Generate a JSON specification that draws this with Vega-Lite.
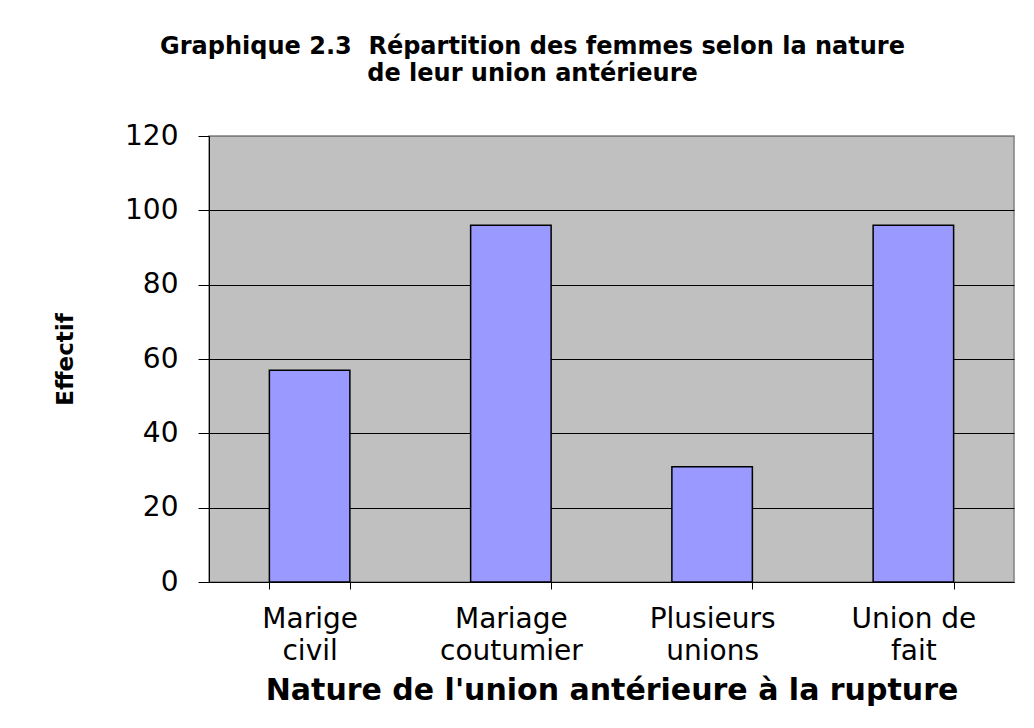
{
  "$schema": "https://vega.github.io/schema/vega-lite/v6.json",
  "width": 805,
  "height": 446,
  "autosize": "none",
  "padding": {"left": 209, "top": 136, "right": 20, "bottom": 146},
  "background": "white",
  "title": {
    "text": ["Graphique 2.3\u00a0 Répartition des femmes selon la nature", "de leur union antérieure"],
    "font": "DejaVu Sans",
    "fontSize": 24,
    "fontWeight": "bold",
    "color": "black",
    "anchor": "middle",
    "dx": -79,
    "offset": 36,
    "lineHeight": 27
  },
  "data": {
    "values": [
      {"nature": "Marige civil", "effectif": 57},
      {"nature": "Mariage coutumier", "effectif": 96},
      {"nature": "Plusieurs unions", "effectif": 31},
      {"nature": "Union de fait", "effectif": 96}
    ]
  },
  "mark": {"type": "bar", "fill": "#9999FF", "stroke": "black", "strokeWidth": 1.5},
  "encoding": {
    "x": {
      "field": "nature",
      "type": "nominal",
      "sort": null,
      "scale": {"paddingInner": 0.6, "paddingOuter": 0.3},
      "axis": {
        "title": "Nature de l'union antérieure à la rupture",
        "titleFont": "DejaVu Sans",
        "titleFontSize": 30,
        "titleFontWeight": "bold",
        "titleColor": "black",
        "titleY": 117,
        "titleBaseline": "alphabetic",
        "labelAngle": 0,
        "labelFont": "DejaVu Sans",
        "labelFontSize": 28,
        "labelColor": "black",
        "labelBaseline": "alphabetic",
        "labelPadding": 38,
        "labelLineHeight": 32,
        "labelOverlap": false,
        "labelLimit": 0,
        "labelExpr": "[substring(datum.label, 0, lastindexof(datum.label, ' ')), substring(datum.label, lastindexof(datum.label, ' ') + 1)]",
        "tickBand": "extent",
        "tickSize": 7,
        "tickColor": "black",
        "domainColor": "black",
        "grid": false
      }
    },
    "y": {
      "field": "effectif",
      "type": "quantitative",
      "scale": {"domain": [0, 120]},
      "axis": {
        "title": "Effectif",
        "titleFont": "DejaVu Sans",
        "titleFontSize": 23,
        "titleFontWeight": "bold",
        "titleColor": "black",
        "titleX": -137,
        "titleY": 223,
        "titleAngle": -90,
        "titleAlign": "center",
        "titleBaseline": "alphabetic",
        "values": [0, 20, 40, 60, 80, 100, 120],
        "labelFont": "DejaVu Sans",
        "labelFontSize": 28,
        "labelColor": "black",
        "labelPadding": 20,
        "tickSize": 11,
        "tickColor": "black",
        "domainColor": "black",
        "grid": true,
        "gridColor": {"condition": {"test": "datum.value == 120", "value": "#808080"}, "value": "black"},
        "gridWidth": 1
      }
    }
  },
  "config": {
    "view": {"fill": "#C0C0C0", "stroke": "#808080", "strokeWidth": 1.5}
  }
}
